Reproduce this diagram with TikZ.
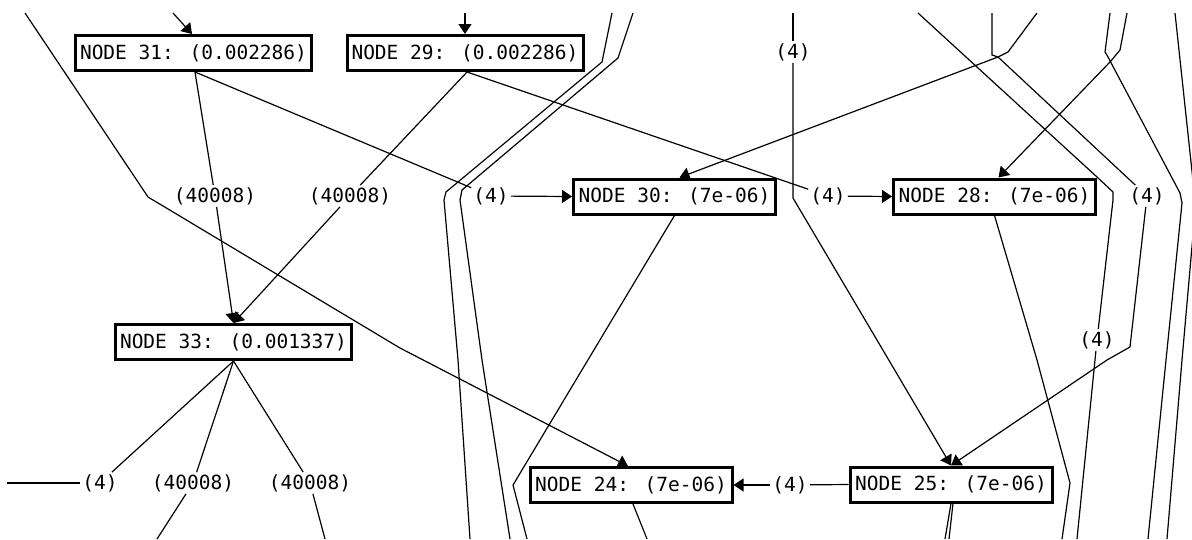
\documentclass[tikz,border=0pt]{standalone}
\usepackage{fontspec}
\usetikzlibrary{arrows.meta}
\newfontfamily\nodefont{DejaVu Sans Mono}
\begin{document}
\begin{tikzpicture}[x=1pt,y=-1pt,
  edge/.style={line width=1.2pt, draw=black},
  arr/.style={edge, -{Triangle[length=10pt,width=13pt]}},
  box/.style={draw, line width=3pt, fill=white, inner sep=0pt, font=\nodefont\fontsize{19.5}{22}\selectfont, minimum height=35pt},
  bigbox/.style={box, minimum width=236pt},
  smallbox/.style={box, minimum width=202pt},
  lab/.style={inner sep=2pt, font=\nodefont\fontsize{19.5}{22}\selectfont}]
\useasboundingbox (0,0) rectangle (1192,539);
\clip (0,0) rectangle (1192,539);
% nodes
\node[bigbox] (n31) at (193.5,53) {NODE 31: (0.002286)};
\node[bigbox] (n29) at (465,53) {NODE 29: (0.002286)};
\node[smallbox] (n30) at (674.5,196.5) {NODE 30: (7e-06)};
\node[smallbox] (n28) at (994.5,196.5) {NODE 28: (7e-06)};
\node[bigbox] (n33) at (233.5,342) {NODE 33: (0.001337)};
\node[smallbox] (n24) at (631,485) {NODE 24: (7e-06)};
\node[smallbox] (n25) at (951,484.5) {NODE 25: (7e-06)};
% labels
\node[lab] (la) at (215,196) {(40008)};
\node[lab] (lb) at (350,196) {(40008)};
\node[lab] (lc) at (491,196) {(4)};
\node[lab] (ld) at (793,52) {(4)};
\node[lab] (le) at (828,196) {(4)};
\node[lab] (lf) at (1147,196) {(4)};
\node[lab] (lg) at (1097,340) {(4)};
\node[lab] (lh) at (100,483) {(4)};
\node[lab] (li) at (193,483) {(40008)};
\node[lab] (lj) at (310,483) {(40008)};
\node[lab] (lk) at (790,485) {(4)};
% free ends
\coordinate (t1) at (25,13);
\coordinate (t2) at (173,13);
\coordinate (t3) at (465,13);
\coordinate (t4) at (612,13);
\coordinate (t5) at (633,13);
\coordinate (t6) at (793,13);
\coordinate (t7) at (918,13);
\coordinate (t8) at (992,13);
\coordinate (t9) at (1037,13);
\coordinate (t10) at (1110,13);
\coordinate (t11) at (1127,13);
\coordinate (t12) at (1175,13);
\coordinate (j1) at (998,57);
\coordinate (b1) at (470,539);
\coordinate (b2) at (510,539);
\coordinate (b3) at (527,539);
\coordinate (b4) at (1077,539);
\coordinate (b5) at (1148,539);
\coordinate (b6) at (1167,539);
\coordinate (b7) at (1062,539);
\coordinate (b8) at (7,483);
\coordinate (b9) at (157,539);
\coordinate (b10) at (325,539);
\coordinate (b11) at (647,539);
\coordinate (b12) at (945,539);
\coordinate (b13) at (949,539);
% edges
\draw[arr] (t1) -- (138,182) -- (148,197) -- (400,348) -- ([xshift=-3pt]n24.north);
\draw[arr] (t2) -- ([xshift=-1.5pt]n31.north);
\draw[arr] (t3) -- (n29.north);
\draw[edge] (t4) -- (602,62) -- (446,192) -- (444,200) -- (458,360) -- (b1);
\draw[edge] (t5) -- (618,58) -- (462,190) -- (460,200) -- (482,360) -- (b2);
\draw[edge] (n30.south) -- (513,485) -- (b3);
\draw[edge] (t6) -- (ld);
\draw[arr] (ld) -- (793,198) -- (887,357) -- (n25.north);
\draw[edge] (t7) -- (1097,177) -- (1113,192) -- (1113,200) -- (lg);
\draw[edge] (lg) -- (b4);
\draw[edge] (t8) -- (992,55) -- (j1);
\draw[edge] (t9) -- (1008,52) -- (j1);
\draw[arr] (j1) -- ([xshift=5pt]n30.north);
\draw[edge] (j1) -- (lf);
\draw[arr] (lf) -- (1130,347) -- (1107,360) -- (n25.north);
\draw[edge] (t10) -- (1105,52) -- (1108,57) -- (1180,193) -- (1182,203) -- (1166,360) -- (b5);
\draw[arr] (t11) -- (1120,50) -- (1110,62) -- ([xshift=4pt]n28.north);
\draw[edge] (t12) -- (1194,190) -- (1193,235) -- (1182,360) -- (b6);
\draw[edge] (n28.south) -- (1037,360) -- (1070,483) -- (b7);
\draw[edge] ([xshift=2pt]n29.south) -- (le);
\draw[arr] (le) -- (n28.west);
\draw[edge] ([xshift=1.5pt]n31.south) -- (lc);
\draw[arr] (lc) -- (n30.west);
\draw[edge] ([xshift=1.5pt]n31.south) -- (la);
\draw[arr] (la) -- (n33.north);
\draw[edge] ([xshift=2pt]n29.south) -- (lb);
\draw[arr] (lb) -- (n33.north);
\draw[edge] (n33.south) -- (lh);
\draw[edge] (lh) -- (b8);
\draw[edge] (n33.south) -- (li);
\draw[edge] (li) -- (b9);
\draw[edge] (n33.south) -- (lj);
\draw[edge] (lj) -- (b10);
\draw[edge] (n25.west) -- (lk);
\draw[arr] (lk) -- (n24.east);
\draw[edge] ([xshift=2pt]n24.south) -- (b11);
\draw[edge] (n25.south) -- (b12);
\draw[edge] ([xshift=2pt]n25.south) -- (b13);
\end{tikzpicture}
\end{document}
